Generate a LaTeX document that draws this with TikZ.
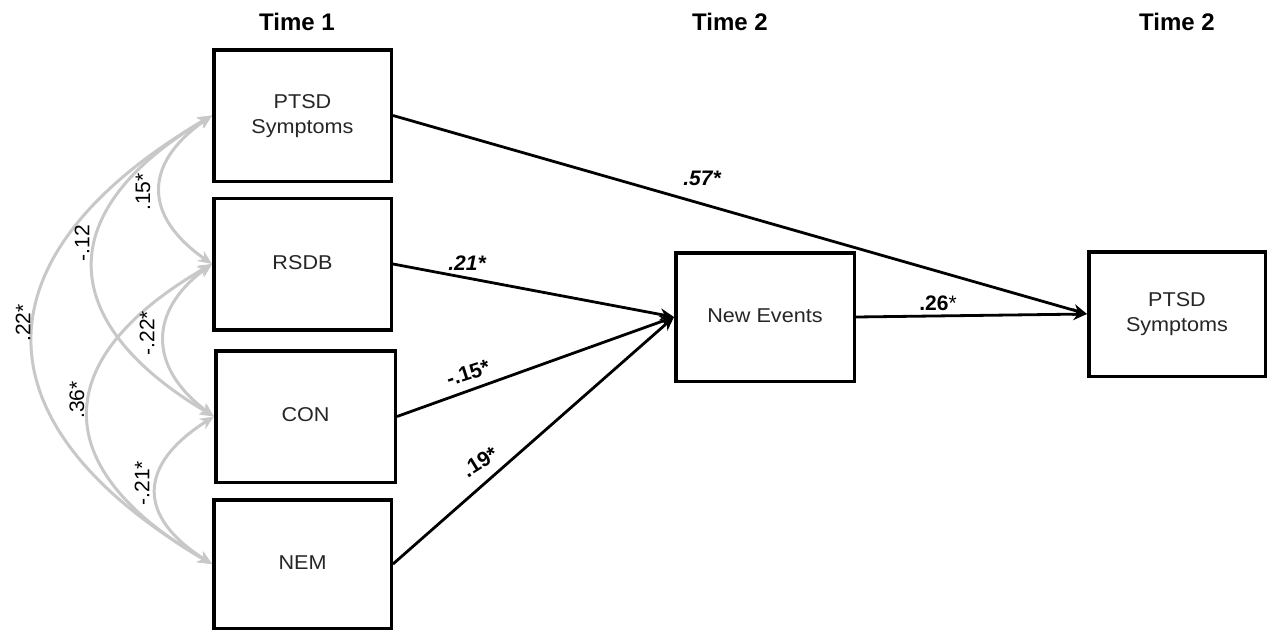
\documentclass[tikz,border=0pt]{standalone}
\usepackage{fontspec}
\setmainfont{Liberation Sans}
\usepackage{graphicx}
\usetikzlibrary{arrows.meta}
\definecolor{covgray}{HTML}{C8C8C8}
\newcommand{\bxt}[1]{\scalebox{1.08}[1]{\begin{tabular}{@{}c@{}}#1\end{tabular}}}
\begin{document}
\begin{tikzpicture}[x=1pt,y=-1pt,
  box/.style={draw=black, line width=3.5pt, minimum width=177.5pt, minimum height=131.5pt,
    inner sep=0pt, font=\fontsize{20}{25}\selectfont, text=black!85},
  pathar/.style={line width=2.8pt, -{Stealth[length=14pt,width=12pt]}},
  cov/.style={draw=covgray, line width=3pt,
    {Stealth[length=14pt,width=12pt]}-{Stealth[length=14pt,width=12pt]}},
  hdr/.style={font=\fontsize{24}{28}\selectfont\bfseries},
  coef/.style={font=\fontsize{21}{24}\selectfont\bfseries\itshape},
  coefu/.style={font=\fontsize{21}{24}\selectfont\bfseries},
  cl/.style={font=\fontsize{21}{24}\selectfont, rotate=90}]
\useasboundingbox[fill=white] (0,0) rectangle (1274,632);

% headers
\node[hdr] (h1) at (297,22) {Time 1};
\node[hdr] (h2) at (730,22) {Time 2};
\node[hdr] (h3) at (1177,22) {Time 2};

% boxes
\node[box] (ptsd1) at (302.5,115.5) {\bxt{PTSD\\Symptoms}};
\node[box] (rsdb) at (302.5,264) {\bxt{RSDB}};
\node[box, minimum width=179.5pt] (con) at (305.5,416.5) {\bxt{CON}};
\node[box, minimum height=128.5pt] (nem) at (302.5,564) {\bxt{NEM}};
\node[box, minimum width=178.5pt, minimum height=128.5pt] (ne) at (765,317) {\bxt{New Events}};
\node[box, minimum width=176.5pt, minimum height=124.5pt] (ptsd2) at (1177,314) {\bxt{PTSD\\Symptoms}};

% paths
\draw[pathar] (ptsd1.east) -- (ptsd2.west);
\draw[pathar] (rsdb.east) -- (ne.west);
\draw[pathar] (con.east) -- (ne.west);
\draw[pathar] (nem.east) -- (ne.west);
\draw[pathar] (ne.east) -- (ptsd2.west);

% path coefficients
\node[coef] (c57) at (702,178) {.57*};
\node[coef] (c21) at (467,263) {.21*};
\node[coefu, rotate=18] (c15) at (468,373) {-.15*};
\node[coefu, rotate=32] (c19) at (480,462) {.19*};
\node[font=\fontsize{21}{24}\selectfont] (c26) at (938,303) {\textbf{.26}*};

% covariances
\draw[cov] (ptsd1.west) .. controls +(-69,48) and +(-69,-48) .. (rsdb.west);
\draw[cov] (rsdb.west) .. controls +(-65,48) and +(-65,-48) .. (con.west);
\draw[cov] (con.west) .. controls +(-76,48) and +(-76,-48) .. (nem.west);
\draw[cov] (ptsd1.west) .. controls +(-160,95) and +(-160,-95) .. (con.west);
\draw[cov] (rsdb.west) .. controls +(-165,95) and +(-165,-95) .. (nem.west);
\draw[cov] (ptsd1.west) .. controls +(-239,140) and +(-239,-140) .. (nem.west);

% covariance labels
\node[cl] (k15) at (143,192) {.15*};
\node[cl] (k12) at (82,243) {-.12};
\node[cl] (k22a) at (23,323) {.22*};
\node[cl] (k22b) at (147,333) {-.22*};
\node[cl] (k36) at (77,400) {.36*};
\node[cl] (k21) at (142,483) {-.21*};
\end{tikzpicture}
\end{document}
